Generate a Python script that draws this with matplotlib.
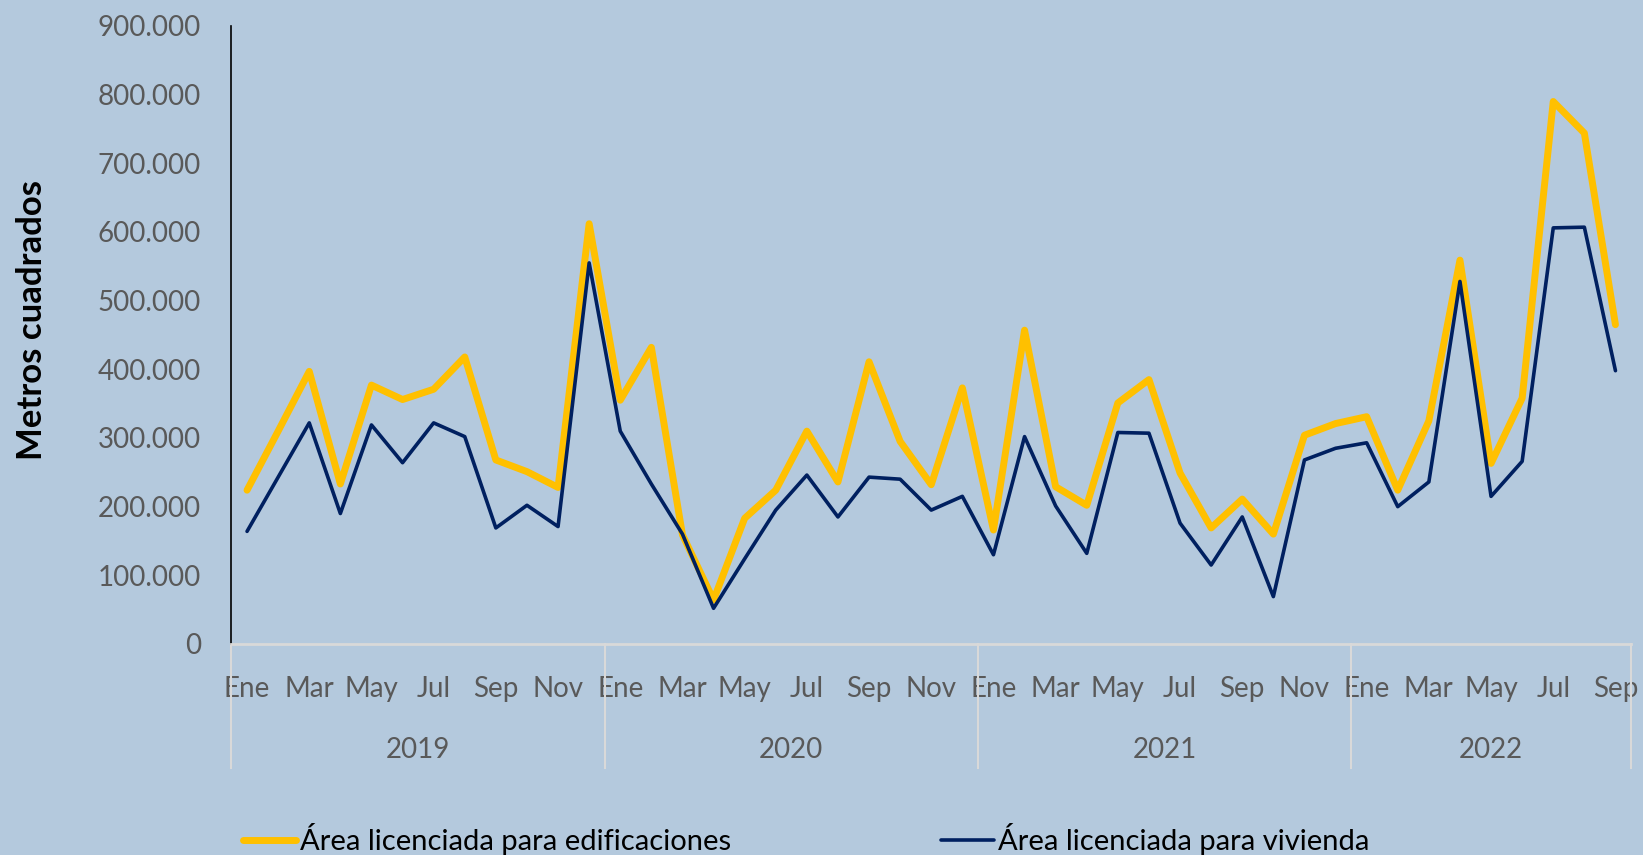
import numpy as np
import matplotlib
matplotlib.use("Agg")
import matplotlib.pyplot as plt
from matplotlib.ticker import FuncFormatter
import matplotlib.transforms as mtransforms

plt.rcParams['font.family'] = ['Lato', 'DejaVu Sans']

month_names = ["Ene", "Feb", "Mar", "Abr", "May", "Jun", "Jul", "Ago", "Sep", "Oct", "Nov", "Dic"]
years = ["2019", "2020", "2021", "2022"]
months_per_year = [12, 12, 12, 9]

edificaciones = [
    224000, 310000, 397000, 233000, 377000, 356000, 371000, 418000, 268000, 251000, 228000, 612000,
    355000, 432000, 159000, 64000, 183000, 224000, 310000, 236000, 411000, 295000, 232000, 373000,
    166000, 457000, 229000, 202000, 351000, 385000, 249000, 169000, 211000, 160000, 304000, 321000,
    331000, 224000, 325000, 559000, 263000, 358000, 790000, 744000, 465000,
]
vivienda = [
    164000, 243000, 322000, 190000, 319000, 264000, 322000, 302000, 169000, 202000, 171000, 555000,
    310000, 233000, 160000, 52000, 124000, 195000, 246000, 185000, 243000, 240000, 195000, 215000,
    130000, 302000, 201000, 132000, 308000, 307000, 176000, 115000, 185000, 69000, 268000, 285000,
    293000, 200000, 236000, 528000, 215000, 266000, 606000, 607000, 398000,
]
series_labels = ["Área licenciada para edificaciones", "Área licenciada para vivienda"]

bg = "#B4C9DD"
yellow = "#FFC000"
navy = "#002060"
gray_txt = "#595959"
sep_col = "#D9D9D9"

fig = plt.figure(figsize=(16.43, 8.55), dpi=100, facecolor=bg)
ax = fig.add_axes([0.1409, 0.2468, 0.8518, 0.7228], facecolor=bg)

x = np.arange(len(edificaciones))
l1, = ax.plot(x, edificaciones, color=yellow, lw=5, solid_joinstyle='round',
              solid_capstyle='round', label=series_labels[0])
l2, = ax.plot(x, vivienda, color=navy, lw=2.6, solid_joinstyle='round',
              solid_capstyle='round', label=series_labels[1])

ax.set_xlim(-0.5, len(x) - 0.5)
ax.set_ylim(0, 900000)
ax.set_yticks(np.arange(0, 900001, 100000))
ax.yaxis.set_major_formatter(FuncFormatter(lambda v, p: f"{int(v):,}".replace(",", ".")))

tick_pos = []
tick_lab = []
i = 0
for n in months_per_year:
    for m in range(n):
        if m % 2 == 0:
            tick_pos.append(i)
            tick_lab.append(month_names[m])
        i += 1
ax.set_xticks(tick_pos)
ax.set_xticklabels(tick_lab)

ax.tick_params(axis='y', length=0, pad=22, labelsize=20, labelcolor=gray_txt)
ax.tick_params(axis='x', length=0, pad=23, labelsize=20, labelcolor=gray_txt)

for s in ['top', 'right']:
    ax.spines[s].set_visible(False)
ax.spines['left'].set_color('black')
ax.spines['left'].set_linewidth(1.2)
ax.spines['bottom'].set_color(sep_col)
ax.spines['bottom'].set_linewidth(2)

trans = mtransforms.blended_transform_factory(ax.transData, ax.transAxes)
start = 0
bounds = [-0.5]
for yname, n in zip(years, months_per_year):
    center = start + (n - 1) / 2
    ax.text(center, -0.171, yname, transform=trans, ha='center', va='center',
            fontsize=20, color=gray_txt)
    start += n
    bounds.append(start - 0.5)
for b in bounds:
    ax.plot([b, b], [0, -0.2], transform=trans, color=sep_col, lw=1.5, clip_on=False)

ax.set_ylabel("Metros cuadrados", fontsize=25, fontweight='bold', color='black')
ax.yaxis.set_label_coords(-0.131, 0.524)

fig.legend(handles=[l1, l2], labels=series_labels, loc='lower left',
           bbox_to_anchor=(0.132, -0.031), ncol=2, frameon=False, fontsize=21,
           handlelength=1.8, handletextpad=0.15, columnspacing=7.2)

fig.savefig("out.png", dpi=100, facecolor=bg)
